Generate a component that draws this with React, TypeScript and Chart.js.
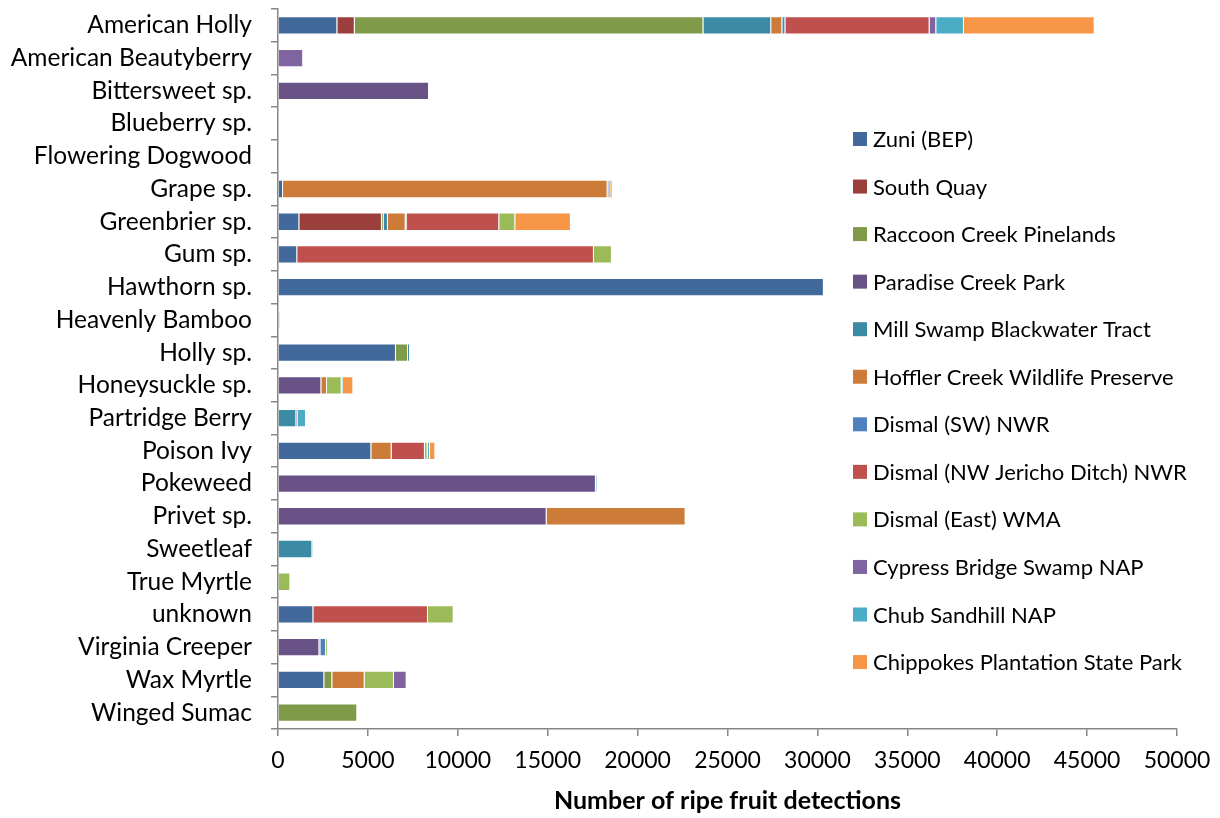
import React, { useEffect, useRef } from "react";
import { Chart, registerables } from "chart.js";

Chart.register(...registerables);

const species = [
  "American Holly",
  "American Beautyberry",
  "Bittersweet sp.",
  "Blueberry sp.",
  "Flowering Dogwood",
  "Grape sp.",
  "Greenbrier sp.",
  "Gum sp.",
  "Hawthorn sp.",
  "Heavenly Bamboo",
  "Holly sp.",
  "Honeysuckle sp.",
  "Partridge Berry",
  "Poison Ivy",
  "Pokeweed",
  "Privet sp.",
  "Sweetleaf",
  "True Myrtle",
  "unknown",
  "Virginia Creeper",
  "Wax Myrtle",
  "Winged Sumac",
];

const siteNames = [
  "Zuni (BEP)",
  "South Quay",
  "Raccoon Creek Pinelands",
  "Paradise Creek Park",
  "Mill Swamp Blackwater Tract",
  "Hoffler Creek Wildlife Preserve",
  "Dismal (SW) NWR",
  "Dismal (NW Jericho Ditch) NWR",
  "Dismal (East) WMA",
  "Cypress Bridge Swamp NAP",
  "Chub Sandhill NAP",
  "Chippokes Plantation State Park",
];

const siteColors = [
  "#41699c",
  "#9b3f3d",
  "#7f9a48",
  "#695286",
  "#3b8ba4",
  "#cd7b38",
  "#4f81bd",
  "#c0504d",
  "#9bbb59",
  "#8064a2",
  "#4bacc6",
  "#f79646",
];

// detections per species, one array per site (same order as species)
const zuni = [3300, 0, 0, 0, 0, 280, 1185, 1070, 30360, 0, 6560, 0, 0, 5190, 0, 0, 0, 0, 1965, 0, 2575, 0];
const southQuay = [970, 0, 0, 0, 0, 0, 4595, 0, 0, 0, 0, 0, 0, 0, 0, 0, 0, 0, 0, 0, 0, 0];
const raccoonCreek = [19390, 0, 0, 0, 0, 0, 95, 0, 0, 0, 670, 0, 0, 0, 0, 0, 0, 0, 0, 0, 445, 4410];
const paradiseCreek = [0, 0, 8400, 0, 0, 0, 0, 0, 0, 50, 0, 2410, 0, 0, 17680, 14940, 0, 0, 0, 2300, 0, 0];
const millSwamp = [3770, 0, 0, 0, 0, 0, 240, 0, 0, 0, 110, 0, 1020, 0, 0, 0, 1910, 0, 0, 0, 0, 0];
const hofflerCreek = [620, 0, 0, 0, 0, 18050, 985, 0, 0, 0, 0, 315, 0, 1130, 0, 7730, 0, 0, 0, 55, 1800, 0];
const dismalSW = [170, 0, 0, 0, 0, 90, 55, 0, 0, 0, 0, 0, 0, 0, 0, 0, 0, 0, 0, 315, 0, 0];
const dismalNW = [8020, 0, 0, 0, 0, 60, 5150, 16500, 0, 40, 0, 0, 0, 1850, 0, 0, 0, 0, 6375, 0, 0, 0];
const dismalEast = [0, 0, 0, 0, 0, 0, 890, 1000, 0, 0, 0, 815, 0, 150, 0, 0, 0, 685, 1430, 90, 1630, 0];
const cypressBridge = [370, 1400, 0, 0, 0, 0, 0, 0, 0, 0, 0, 0, 92, 0, 0, 0, 0, 0, 0, 0, 705, 0];
const chubSandhill = [1540, 0, 0, 0, 0, 0, 0, 0, 0, 0, 0, 75, 445, 130, 60, 0, 40, 0, 0, 0, 0, 0];
const chippokes = [7270, 0, 0, 0, 0, 130, 3095, 0, 0, 0, 0, 575, 0, 300, 0, 0, 0, 0, 0, 0, 0, 0];

const siteValues = [
  zuni,
  southQuay,
  raccoonCreek,
  paradiseCreek,
  millSwamp,
  hofflerCreek,
  dismalSW,
  dismalNW,
  dismalEast,
  cypressBridge,
  chubSandhill,
  chippokes,
];

const FONT = "Lato, 'Open Sans', sans-serif";
const AXIS_GRAY = "#868686";

// Legend drawn as a column inside the plot area, right side
const sideLegend = {
  id: "sideLegend",
  afterDraw(chart: any) {
    const ctx = chart.ctx;
    const boxX = 853;
    const textX = 873;
    const firstY = 139;
    const step = 47.55;
    ctx.save();
    ctx.font = `22px ${FONT}`;
    ctx.textBaseline = "middle";
    ctx.textAlign = "left";
    chart.data.datasets.forEach((ds: any, i: number) => {
      const y = firstY + i * step;
      ctx.fillStyle = ds.backgroundColor;
      ctx.fillRect(boxX, y - 7, 14, 14);
      ctx.fillStyle = "#000";
      ctx.fillText(ds.label, textX, y + 1);
    });
    ctx.restore();
  },
};

// keep the plot area fixed: no automatic padding from tick labels
const noAutoPadding = (scale: any) => {
  scale.paddingTop = 0;
  scale.paddingBottom = 0;
  scale.paddingLeft = 0;
  scale.paddingRight = 0;
};

export default function App() {
  const canvasRef = useRef<HTMLCanvasElement | null>(null);

  useEffect(() => {
    if (!canvasRef.current) return;
    const chart = new Chart(canvasRef.current, {
      type: "bar",
      data: {
        labels: species,
        datasets: siteNames.map((name, i) => ({
          label: name,
          data: siteValues[i],
          backgroundColor: siteColors[i],
          borderColor: "rgba(255,255,255,0.35)",
          borderWidth: 1,
          barPercentage: 1,
          categoryPercentage: 0.56,
        })),
      },
      options: {
        indexAxis: "y",
        animation: false,
        responsive: false,
        maintainAspectRatio: false,
        layout: { autoPadding: false, padding: { left: 0, right: 43, top: 9, bottom: 0 } },
        plugins: {
          legend: { display: false },
          tooltip: { enabled: false },
        },
        scales: {
          x: {
            stacked: true,
            min: 0,
            max: 50000,
            ticks: {
              stepSize: 5000,
              color: "#000",
              font: { family: FONT, size: 23 },
              padding: 11,
              maxRotation: 0,
              callback: (v: any) => String(v),
            },
            grid: {
              display: true,
              drawOnChartArea: false,
              drawTicks: true,
              tickLength: 7,
              color: AXIS_GRAY,
              lineWidth: 1.5,
            },
            border: { display: true, color: AXIS_GRAY, width: 1.5 },
            title: {
              display: true,
              text: "Number of ripe fruit detections",
              color: "#000",
              font: { family: FONT, size: 25, weight: "bold" },
              padding: { top: 0, bottom: 2 },
            },
            afterFit(scale: any) {
              scale.height = 89;
              noAutoPadding(scale);
            },
          },
          y: {
            stacked: true,
            ticks: {
              color: "#000",
              font: { family: FONT, size: 24.5 },
              padding: 19,
              autoSkip: false,
            },
            grid: {
              display: true,
              drawOnChartArea: false,
              drawTicks: true,
              tickLength: 7,
              color: AXIS_GRAY,
              lineWidth: 1.5,
            },
            border: { display: true, color: AXIS_GRAY, width: 1.5 },
            afterFit(scale: any) {
              scale.width = 278;
              noAutoPadding(scale);
            },
          },
        },
      },
      plugins: [sideLegend],
    });
    return () => chart.destroy();
  }, []);

  return (
    <div style={{ position: "absolute", left: 0, top: 0, width: 1220, height: 818, background: "#fff" }}>
      <canvas ref={canvasRef} width={1220} height={818} style={{ display: "block" }} />
    </div>
  );
}
